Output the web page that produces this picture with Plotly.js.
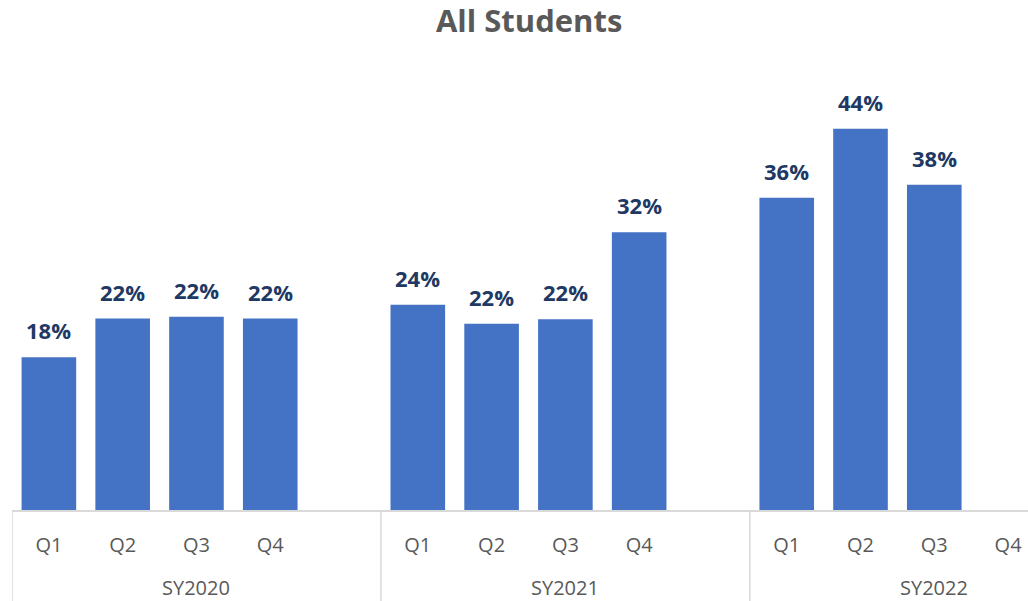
<!DOCTYPE html>
<html>
<head>
<meta charset="utf-8">
<script src="https://cdn.plot.ly/plotly-3.0.1.min.js"></script>
<style>html,body{margin:0;padding:0;background:#fff;}#chart{width:1028px;height:601px;}</style>
</head>
<body>
<div id="chart"></div>
<script>
// Data
const years = ["SY2020", "SY2021", "SY2022"];
const quarters = ["Q1", "Q2", "Q3", "Q4"];
const sy2020 = [17.7, 22.2, 22.4, 22.2];
const sy2021 = [23.8, 21.6, 22.1, 32.2];
const sy2022 = [36.2, 44.2, 37.7, null];

const seriesByYear = [sy2020, sy2021, sy2022];
const slotsPerYear = 5; // 4 quarters + 1 blank slot

const xs = [], ys = [], tickvals = [], ticktext = [];
seriesByYear.forEach((vals, gi) => {
  quarters.forEach((q, qi) => {
    const x = gi * slotsPerYear + qi;
    tickvals.push(x); ticktext.push(q);
    if (vals[qi] !== null) { xs.push(x); ys.push(vals[qi]); }
  });
});

const annotations = xs.map((x, i) => ({
  x: x, y: ys[i], xref: 'x', yref: 'y',
  text: Math.round(ys[i]) + '%',
  showarrow: false, yanchor: 'bottom', yshift: 10,
  font: {family: 'Open Sans, sans-serif', size: 22, color: '#203864', weight: 'bold'}
}));
years.forEach((y, gi) => {
  annotations.push({
    x: gi * slotsPerYear + 2, y: -0.173, xref: 'x', yref: 'paper',
    text: y, showarrow: false, yanchor: 'middle',
    font: {family: 'Open Sans, sans-serif', size: 20, color: '#595959'}
  });
});

const shapes = [0, 1, 2].map(gi => ({
  type: 'line', xref: 'x', yref: 'paper',
  x0: gi * slotsPerYear - 0.5, x1: gi * slotsPerYear - 0.5,
  y0: 0, y1: -0.25,
  line: {color: '#d9d9d9', width: 1.5}
}));

const trace = {
  type: 'bar', x: xs, y: ys, width: 0.74,
  marker: {color: '#4472C4'},
  hoverinfo: 'skip'
};

const layout = {
  width: 1028, height: 601,
  margin: {l: 12, r: 0, t: 60, b: 91},
  paper_bgcolor: '#ffffff', plot_bgcolor: '#ffffff',
  showlegend: false,
  title: {
    text: 'All Students', x: 0.509, xref: 'paper', xanchor: 'center',
    y: 0.965, yref: 'container', yanchor: 'middle',
    font: {family: 'Open Sans, sans-serif', size: 31, color: '#595959', weight: 'bold'}
  },
  xaxis: {
    range: [-0.5, 13.27], tickmode: 'array', tickvals: tickvals, ticktext: ticktext,
    ticks: '', showgrid: false, zeroline: false,
    showline: true, linecolor: '#d9d9d9', linewidth: 1.5,
    ticklabelstandoff: 16,
    tickfont: {family: 'Open Sans, sans-serif', size: 20, color: '#595959'}
  },
  yaxis: {
    range: [0, 52.17], visible: false, showgrid: false, zeroline: false
  },
  annotations: annotations,
  shapes: shapes
};

Plotly.newPlot('chart', [trace], layout, {staticPlot: true, displayModeBar: false});
</script>
</body>
</html>
